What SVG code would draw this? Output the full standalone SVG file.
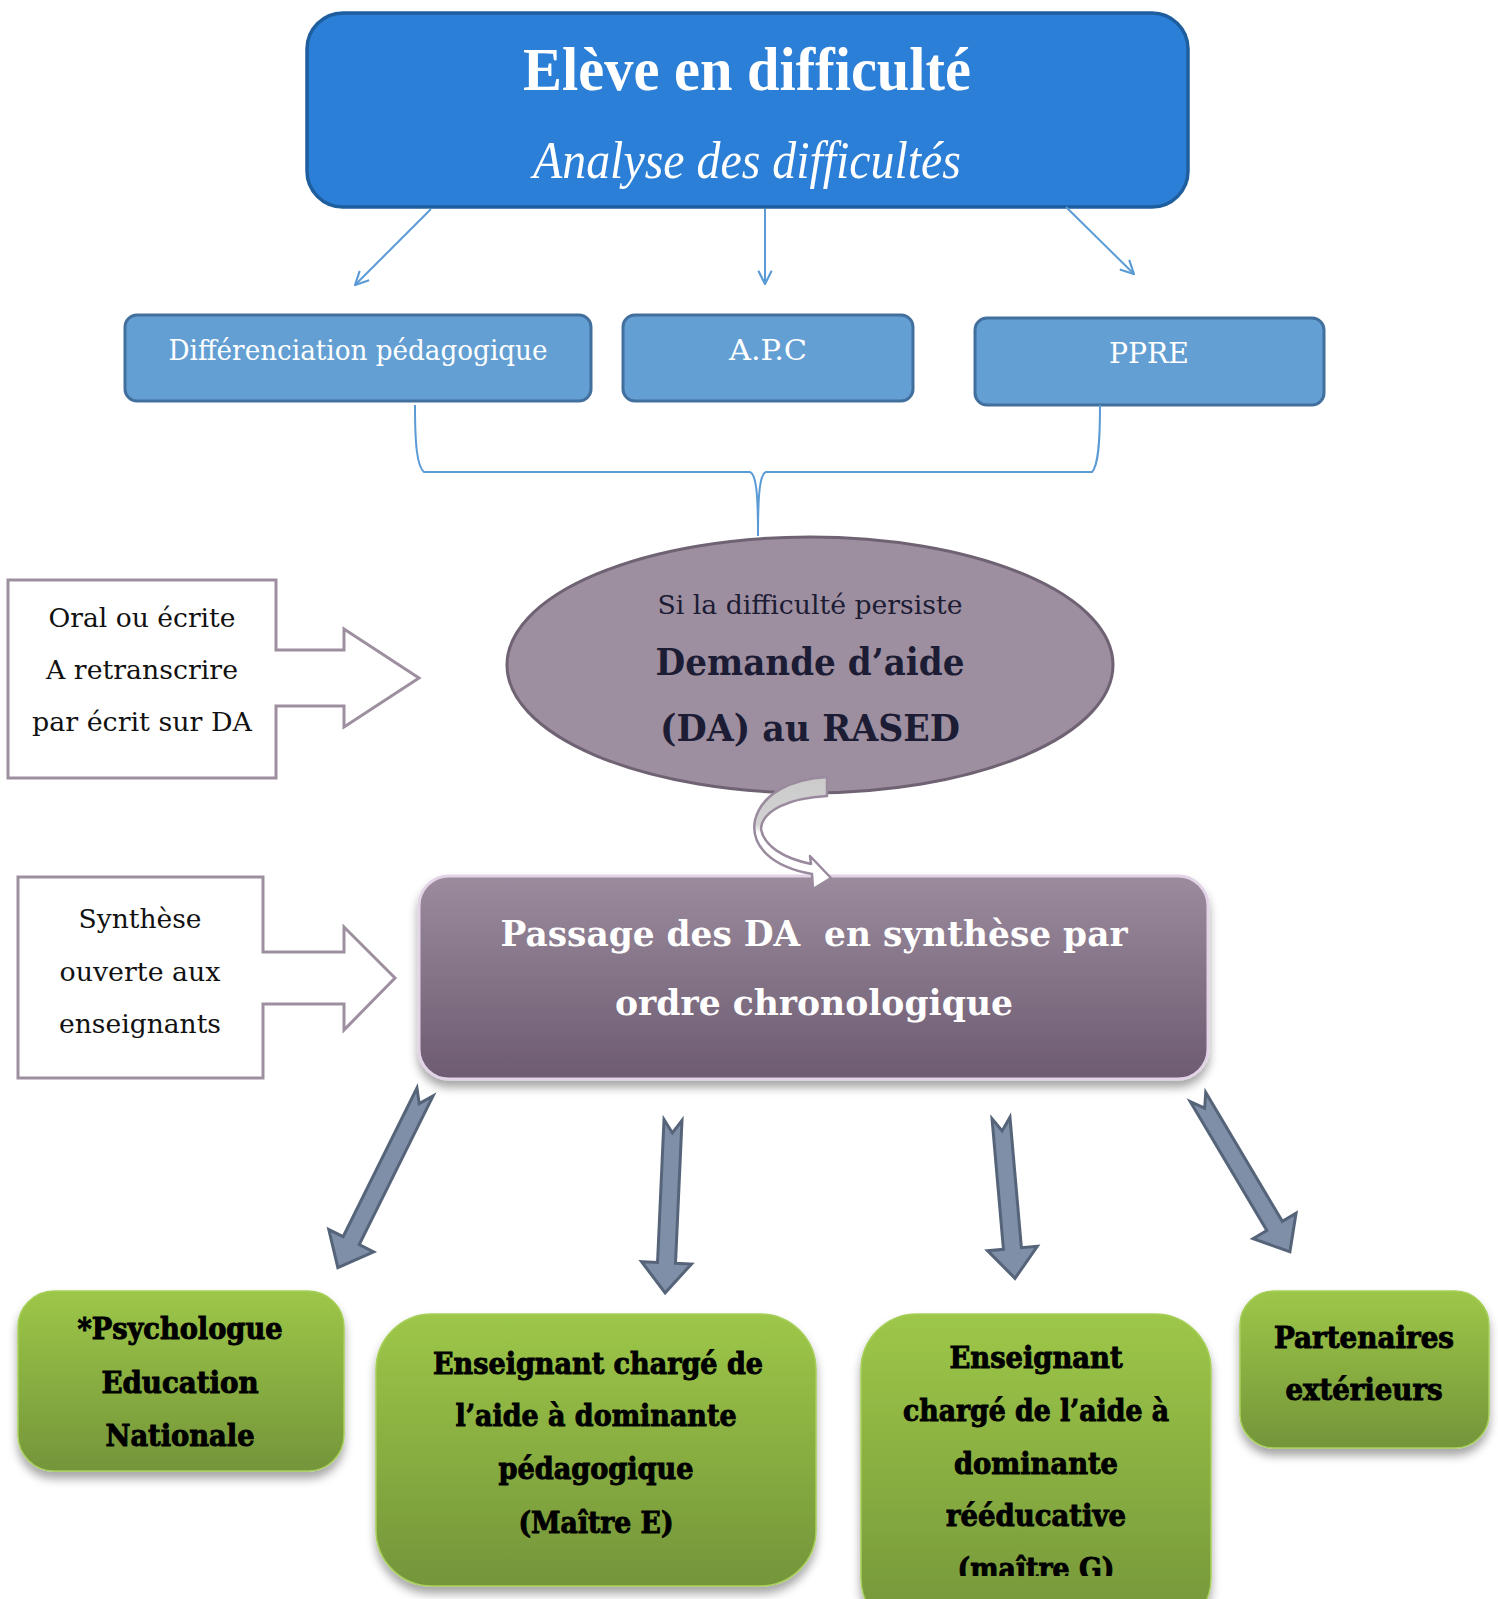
<svg xmlns="http://www.w3.org/2000/svg" width="1498" height="1599" viewBox="0 0 1498 1599">
<defs>
<style>
.serif{font-family:"DejaVu Serif","Liberation Serif",serif}
.cond{font-family:"DejaVu Serif Condensed","DejaVu Serif",serif}
.blue3{fill:#639fd3;stroke:#42709e;stroke-width:3}
.b3t{font-size:28px;fill:#ffffff;text-anchor:middle}
.lbox{fill:#ffffff;stroke:#9e8fa0;stroke-width:3}
.lt{font-size:26px;fill:#111111;text-anchor:middle}
.gt{font-size:30px;font-weight:bold;fill:#000000;stroke:#000000;stroke-width:0.9;text-anchor:middle}
.thin{fill:none;stroke:#5b9bd5;stroke-width:2}
.blk{fill:#7f8fa8;stroke:#56647a;stroke-width:3;stroke-linejoin:miter}
</style>
<marker id="open" viewBox="0 0 12 12" refX="11" refY="6" markerWidth="16" markerHeight="16" markerUnits="userSpaceOnUse" orient="auto">
<path d="M1,1 L11,6 L1,11" fill="none" stroke="#5b9bd5" stroke-width="1.6"/>
</marker>
<linearGradient id="purp" x1="0" y1="0" x2="0" y2="1">
<stop offset="0" stop-color="#9b8b9d"/>
<stop offset="1" stop-color="#6d5b71"/>
</linearGradient>
<linearGradient id="green" x1="0" y1="0" x2="0" y2="1">
<stop offset="0" stop-color="#9dc748"/>
<stop offset="1" stop-color="#74953a"/>
</linearGradient>
<linearGradient id="ribbon" gradientUnits="userSpaceOnUse" x1="0" y1="778" x2="0" y2="888">
<stop offset="0" stop-color="#cbcbcb"/>
<stop offset="0.42" stop-color="#d2d2d2"/>
<stop offset="0.5" stop-color="#ffffff"/>
<stop offset="1" stop-color="#ffffff"/>
</linearGradient>
<filter id="sh" x="-10%" y="-10%" width="120%" height="130%">
<feDropShadow dx="0" dy="7" stdDeviation="5" flood-color="#000000" flood-opacity="0.35"/>
</filter>
<clipPath id="g3clip"><rect x="860" y="1313" width="360" height="263"/></clipPath>
</defs>

<rect x="0" y="0" width="1498" height="1599" fill="#ffffff"/>

<g id="node-eleve">
<rect x="307" y="13" width="881" height="194" rx="36" fill="#2b7fd6" stroke="#1f5e9e" stroke-width="3.5"/>
<text x="747" y="90" font-family="Liberation Serif, serif" font-size="62" font-weight="bold" fill="#ffffff" text-anchor="middle" textLength="448" lengthAdjust="spacingAndGlyphs">Elève en difficulté</text>
<text x="747" y="178" font-family="Liberation Serif, serif" font-size="52" font-style="italic" fill="#ffffff" text-anchor="middle" textLength="428" lengthAdjust="spacingAndGlyphs">Analyse des difficultés</text>
</g>

<g id="node-diff">
<rect class="blue3" x="125" y="315" width="466" height="86" rx="12"/>
<text class="cond b3t" x="358" y="360" textLength="379" lengthAdjust="spacingAndGlyphs">Différenciation pédagogique</text>
</g>
<g id="node-apc">
<rect class="blue3" x="623" y="315" width="290" height="86" rx="12"/>
<text class="cond b3t" x="768" y="360" textLength="78" lengthAdjust="spacingAndGlyphs">A.P.C</text>
</g>
<g id="node-ppre">
<rect class="blue3" x="975" y="318" width="349" height="87" rx="12"/>
<text class="cond b3t" x="1149" y="363" textLength="80" lengthAdjust="spacingAndGlyphs">PPRE</text>
</g>

<g id="node-demande">
<ellipse cx="810" cy="665" rx="303" ry="128" fill="#9e8fa0" stroke="#6f6373" stroke-width="3"/>
<text class="serif" x="810" y="614" font-size="26" fill="#1c1c34" text-anchor="middle" textLength="305" lengthAdjust="spacingAndGlyphs">Si la difficulté persiste</text>
<text class="serif" x="810" y="675" font-size="38" font-weight="bold" fill="#1c1c34" text-anchor="middle" textLength="309" lengthAdjust="spacingAndGlyphs">Demande d’aide</text>
<text class="serif" x="810" y="741" font-size="38" font-weight="bold" fill="#1c1c34" text-anchor="middle" textLength="300" lengthAdjust="spacingAndGlyphs">(DA) au RASED</text>
</g>

<g id="node-oral">
<path class="lbox" d="M8 580 L276 580 L276 650 L344 650 L344 629 L419 678 L344 727 L344 706 L276 706 L276 778 L8 778 Z"/>
<text class="serif lt" x="142" y="627" textLength="187" lengthAdjust="spacingAndGlyphs">Oral ou écrite</text>
<text class="serif lt" x="142" y="679" textLength="192" lengthAdjust="spacingAndGlyphs">A retranscrire</text>
<text class="serif lt" x="142" y="731" textLength="220" lengthAdjust="spacingAndGlyphs">par écrit sur DA</text>
</g>

<g id="node-synthese">
<path class="lbox" d="M18 877 L263 877 L263 952 L344 952 L344 927 L395 978 L344 1030 L344 1004 L263 1004 L263 1078 L18 1078 Z"/>
<text class="serif lt" x="140" y="928" textLength="123" lengthAdjust="spacingAndGlyphs">Synthèse</text>
<text class="serif lt" x="140" y="981" textLength="161" lengthAdjust="spacingAndGlyphs">ouverte aux</text>
<text class="serif lt" x="140" y="1033" textLength="162" lengthAdjust="spacingAndGlyphs">enseignants</text>
</g>

<g id="node-passage">
<rect x="419" y="876" width="789" height="203" rx="30" fill="url(#purp)" stroke="#e2d3e6" stroke-width="3" filter="url(#sh)"/>
<text class="serif" x="814" y="946" font-size="36" font-weight="bold" fill="#ffffff" text-anchor="middle" xml:space="preserve" textLength="627" lengthAdjust="spacingAndGlyphs">Passage des DA  en synthèse par</text>
<text class="serif" x="814" y="1015" font-size="36" font-weight="bold" fill="#ffffff" text-anchor="middle" textLength="398" lengthAdjust="spacingAndGlyphs">ordre chronologique</text>
</g>

<g id="node-psy">
<rect x="18" y="1291" width="326" height="180" rx="36" fill="url(#green)" stroke="#a6cf5a" stroke-width="1.5" filter="url(#sh)"/>
<text class="cond gt" x="180" y="1339" textLength="205" lengthAdjust="spacingAndGlyphs">*Psychologue</text>
<text class="cond gt" x="180" y="1393" textLength="157" lengthAdjust="spacingAndGlyphs">Education</text>
<text class="cond gt" x="180" y="1446" textLength="149" lengthAdjust="spacingAndGlyphs">Nationale</text>
</g>

<g id="node-maitreE">
<rect x="376" y="1314" width="440" height="272" rx="56" fill="url(#green)" stroke="#a6cf5a" stroke-width="1.5" filter="url(#sh)"/>
<text class="cond gt" x="598" y="1374" textLength="330" lengthAdjust="spacingAndGlyphs">Enseignant chargé de</text>
<text class="cond gt" x="596" y="1426" textLength="281" lengthAdjust="spacingAndGlyphs">l’aide à dominante</text>
<text class="cond gt" x="596" y="1479" textLength="195" lengthAdjust="spacingAndGlyphs">pédagogique</text>
<text class="cond gt" x="596" y="1533" textLength="155" lengthAdjust="spacingAndGlyphs">(Maître E)</text>
</g>

<g id="node-maitreG">
<rect x="861" y="1314" width="350" height="320" rx="56" fill="url(#green)" stroke="#a6cf5a" stroke-width="1.5" filter="url(#sh)"/>
<text class="cond gt" x="1036" y="1368" textLength="173" lengthAdjust="spacingAndGlyphs">Enseignant</text>
<text class="cond gt" x="1036" y="1421" textLength="266" lengthAdjust="spacingAndGlyphs">chargé de l’aide à</text>
<text class="cond gt" x="1036" y="1474" textLength="164" lengthAdjust="spacingAndGlyphs">dominante</text>
<text class="cond gt" x="1036" y="1526" textLength="180" lengthAdjust="spacingAndGlyphs">rééducative</text>
<text class="cond gt" x="1036" y="1579" clip-path="url(#g3clip)" textLength="157" lengthAdjust="spacingAndGlyphs">(maître G)</text>
</g>

<g id="node-partenaires">
<rect x="1240" y="1291" width="249" height="157" rx="34" fill="url(#green)" stroke="#a6cf5a" stroke-width="1.5" filter="url(#sh)"/>
<text class="cond gt" x="1364" y="1348" textLength="180" lengthAdjust="spacingAndGlyphs">Partenaires</text>
<text class="cond gt" x="1364" y="1400" textLength="157" lengthAdjust="spacingAndGlyphs">extérieurs</text>
</g>

<g id="connectors">
<line class="thin" x1="431" y1="209" x2="355" y2="285" marker-end="url(#open)"/>
<line class="thin" x1="765" y1="209" x2="765" y2="284" marker-end="url(#open)"/>
<line class="thin" x1="1066" y1="207" x2="1134" y2="274" marker-end="url(#open)"/>
<path class="thin" d="M415 405 C415 445 417 466 424 472 L750 472 C756 474 758 492 758 536"/>
<path class="thin" d="M1100 405 C1100 445 1098 466 1092 472 L766 472 C760 474 758 492 758 536"/>
<path d="M827 777 C792 779 762 793 755 820 C750 846 772 867 812 874 L813 889 L831 878 L810 856 L811 864 C783 858 764 846 761 829 C762 810 790 798 827 796 Z" fill="url(#ribbon)" stroke="#9a8a9e" stroke-width="2.5" stroke-linejoin="round"/>
<polygon class="blk" transform="translate(425,1092) rotate(26.4)" points="-9,0 0,13 9,0 9,166 25,166 0,196 -25,166 -9,166"/>
<polygon class="blk" transform="translate(673,1120) rotate(2.6)" points="-9,0 0,13 9,0 9,143 25,143 0,173 -25,143 -9,143"/>
<polygon class="blk" transform="translate(1001,1118) rotate(-5)" points="-9,0 0,13 9,0 9,131 25,131 0,161 -25,131 -9,131"/>
<polygon class="blk" transform="translate(1198,1097) rotate(-30.7)" points="-9,0 0,13 9,0 9,150 25,150 0,180 -25,150 -9,150"/>
</g>
</svg>
